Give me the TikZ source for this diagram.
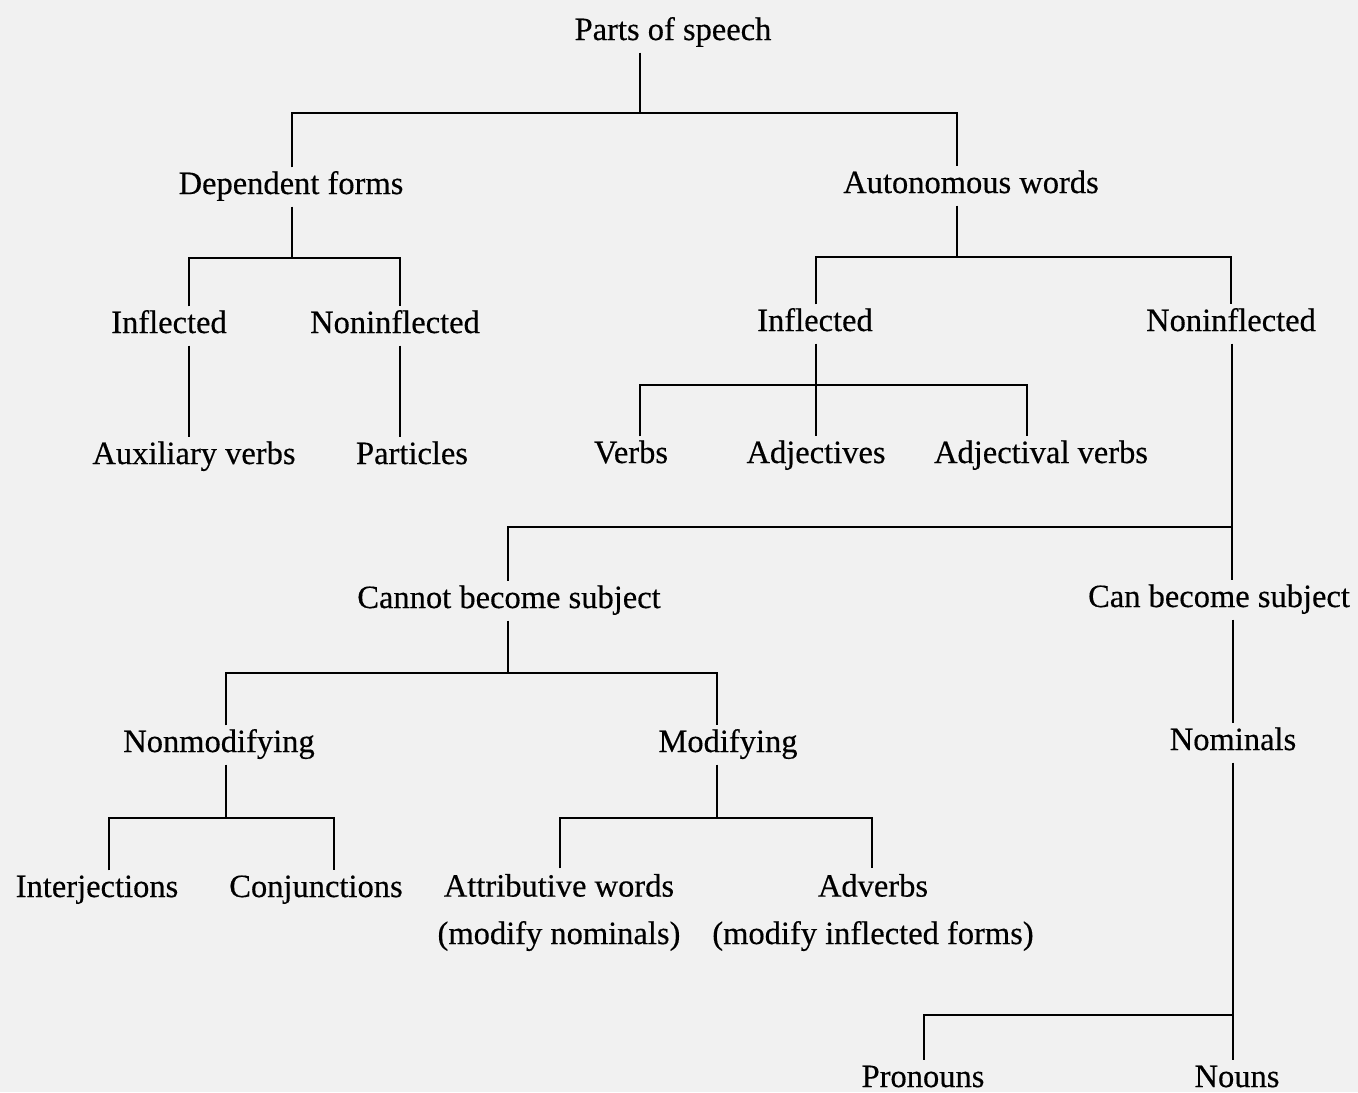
\documentclass[tikz,border=0pt]{standalone}
\usepackage{fontspec}
\setmainfont{Liberation Serif}[FakeBold=0.4]
\usetikzlibrary{positioning}
\definecolor{paper}{RGB}{241,241,241}

\begin{document}
\begin{tikzpicture}[
  x=0.02cm, y=-0.02cm,
  word/.style={anchor=base, inner xsep=2pt, inner ysep=3pt, text height=12pt, text depth=4pt,
    font=\fontsize{18.5}{22}\selectfont},
  twoline/.style={word, align=center, text height={}, text depth={}},
  branch/.style={line width=1.1pt},
]
\path[use as bounding box, fill=paper] (0,0) rectangle (1358,1092);

\node[word] (pos) at (673,40) {Parts of speech};
\node[word] (dep) at (291,194) {Dependent forms};
\node[word] (auto) at (971,193) {Autonomous words};
\node[word] (infl) at (169,333) {Inflected};
\node[word] (noninfl) at (395,333) {Noninflected};
\node[word] (aux) at (194,464) {Auxiliary verbs};
\node[word] (part) at (412,464) {Particles};
\node[word] (inflw) at (815,331) {Inflected};
\node[word] (noninflw) at (1231,331) {Noninflected};
\node[word] (verbs) at (631,463) {Verbs};
\node[word] (adj) at (816,463) {Adjectives};
\node[word] (adjv) at (1041,463) {Adjectival verbs};
\node[word] (nosubj) at (509,608) {Cannot become subject};
\node[word] (subj) at (1219,607) {Can become subject};
\node[word] (nonmod) at (219,752) {Nonmodifying};
\node[word] (mod) at (728,752) {Modifying};
\node[word] (nom) at (1233,750) {Nominals};
\node[word] (interj) at (97,897) {Interjections};
\node[word] (conj) at (316,897) {Conjunctions};
\node[twoline] (attr) at (559,944) {Attributive words\\[5pt](modify nominals)};
\node[twoline] (adv) at (873,944) {Adverbs\\[5pt](modify inflected forms)};
\node[word] (pron) at (923,1087) {Pronouns};
\node[word] (noun) at (1237,1087) {Nouns};

% Parts of speech
\coordinate (j-pos) at (640,113);
\draw[branch] (j-pos |- pos.south) -- (j-pos);
\draw[branch] ([shift={(1,0)}]dep.north) |- (j-pos) -| ([shift={(-14,0)}]auto.north);

% Dependent forms
\coordinate (j-dep) at (292,258);
\draw[branch] (j-dep |- dep.south) -- (j-dep);
\draw[branch] ([shift={(20,0)}]infl.north) |- (j-dep) -| ([shift={(5,0)}]noninfl.north);
\draw[branch] ([shift={(20,0)}]infl.south) -- ([shift={(-5,0)}]aux.north);
\draw[branch] ([shift={(5,0)}]noninfl.south) -- ([shift={(-12,0)}]part.north);

% Autonomous words
\coordinate (j-auto) at (957,257);
\draw[branch] (j-auto |- auto.south) -- (j-auto);
\draw[branch] ([shift={(1,0)}]inflw.north) |- (j-auto) -| (noninflw.north);

% Inflected
\coordinate (j-inflw) at (816,385);
\draw[branch] (j-inflw |- inflw.south) -- (j-inflw |- adj.north);
\draw[branch] ([shift={(9,0)}]verbs.north) |- (j-inflw) -| ([shift={(-14,0)}]adjv.north);

% Noninflected
\coordinate (j-noninflw) at (1232,527);
\draw[branch] (j-noninflw |- noninflw.south) -- (j-noninflw |- subj.north);
\draw[branch] (j-noninflw) -| ([shift={(-1,0)}]nosubj.north);

% Cannot become subject
\coordinate (j-nosubj) at (508,673);
\draw[branch] (j-nosubj |- nosubj.south) -- (j-nosubj);
\draw[branch] ([shift={(7,0)}]nonmod.north) |- (j-nosubj) -| ([shift={(-11,0)}]mod.north);

% Can become subject
\draw[branch] ([shift={(14,0)}]subj.south) -- (nom.north);

% Nonmodifying
\coordinate (j-nonmod) at (226,818);
\draw[branch] (j-nonmod |- nonmod.south) -- (j-nonmod);
\draw[branch] ([shift={(12,0)}]interj.north) |- (j-nonmod) -| ([shift={(18,0)}]conj.north);

% Modifying
\coordinate (j-mod) at (717,818);
\draw[branch] (j-mod |- mod.south) -- (j-mod);
\draw[branch] ([shift={(1,0)}]attr.north) |- (j-mod) -| ([shift={(-1,0)}]adv.north);

% Nominals
\coordinate (j-nom) at (1233,1015);
\draw[branch] (j-nom |- nom.south) -- (j-nom |- noun.north);
\draw[branch] (j-nom) -| ([shift={(1,0)}]pron.north);
\end{tikzpicture}
\end{document}
